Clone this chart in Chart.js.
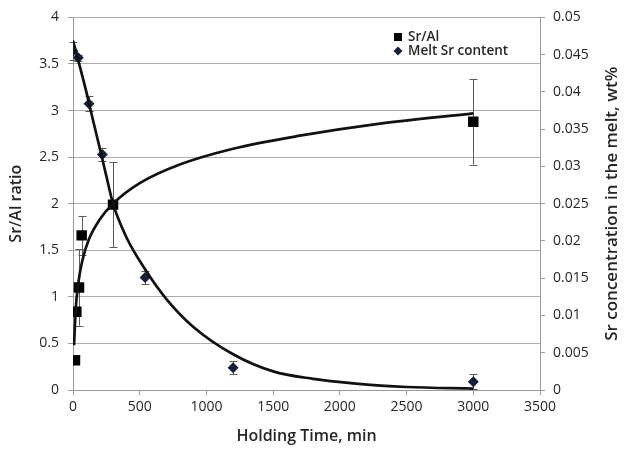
<!DOCTYPE html>
<html>
<head>
<meta charset="utf-8">
<script src="https://cdn.jsdelivr.net/npm/chart.js@4.4.1/dist/chart.umd.min.js"></script>
<style>
  html, body { margin: 0; padding: 0; background: #fff; }
  #wrap { position: relative; width: 630px; height: 451px; }
</style>
</head>
<body>
<div id="wrap"><canvas id="c" width="630" height="451"></canvas></div>
<script>
// Sr/Al ratio of the intermetallic vs holding time (left axis)
const srAlTime  = [15, 25, 45, 65, 300, 3000];
const srAlRatio = [0.32, 0.84, 1.10, 1.66, 1.99, 2.88];
const srAlErr   = [0, 0, 0.41, 0.21, 0.46, 0.46];

// Sr remaining in the melt, wt% (right axis)
const meltTime = [0, 40, 120, 220, 540, 1200, 3000];
const meltSr   = [0.0455, 0.0446, 0.0384, 0.0316, 0.0151, 0.0030, 0.0011];
const meltErr  = [0.0012, 0.0004, 0.0010, 0.0009, 0.0009, 0.0009, 0.0010];

// Trend curves
const srAlFitTime = [8, 20, 40, 70, 120, 200, 300, 500, 800, 1200, 1700, 2300, 3000];
const srAlFit     = [0.48, 0.86, 1.15, 1.39, 1.62, 1.83, 2.00, 2.22, 2.42, 2.59, 2.73, 2.86, 2.97];
const meltFitTime = [0, 50, 100, 150, 200, 250, 300, 400, 540, 700, 900, 1200, 1500, 1800, 2100, 2500, 3000];
const meltFit     = [0.0469, 0.0435, 0.0400, 0.0362, 0.0325, 0.0287, 0.0250, 0.0205, 0.0162, 0.0122, 0.0085, 0.0048, 0.0025, 0.0015, 0.0009, 0.0004, 0.0002];

// Axis labels
const seriesLabels = ['Sr/Al', 'Melt Sr content'];
const xTitle = 'Holding Time, min';
const yTitle = 'Sr/Al ratio';
const y2Title = 'Sr concentration in the melt, wt%';

const FONT = '"Open Sans", Lato, sans-serif';
const TEXT = '#262626';
const DIAMOND = '#14213d';

const pts = (xs, ys) => xs.map((x, i) => ({ x: x, y: ys[i] }));

// vertical error bars with caps, drawn beneath the markers
const errorBars = {
  id: 'errorBars',
  beforeDatasetsDraw(chart) {
    const ctx = chart.ctx;
    const xs = chart.scales.x;
    chart.data.datasets.forEach((ds) => {
      if (!ds.errors) return;
      const ys = chart.scales[ds.yAxisID];
      ctx.save();
      ctx.strokeStyle = '#5a5a5a';
      ctx.lineWidth = 1;
      ds.data.forEach((p, i) => {
        const e = ds.errors[i];
        if (!e) return;
        const x = Math.round(xs.getPixelForValue(p.x)) + 0.5;
        const yt = ys.getPixelForValue(p.y + e);
        const yb = ys.getPixelForValue(p.y - e);
        ctx.beginPath();
        ctx.moveTo(x, yt); ctx.lineTo(x, yb);
        ctx.moveTo(x - 4, Math.round(yt) + 0.5); ctx.lineTo(x + 4, Math.round(yt) + 0.5);
        ctx.moveTo(x - 4, Math.round(yb) + 0.5); ctx.lineTo(x + 4, Math.round(yb) + 0.5);
        ctx.stroke();
      });
      ctx.restore();
    });
  }
};

// legend inside the plot and the right-hand axis title (reading bottom to top)
const extras = {
  id: 'extras',
  afterDraw(chart) {
    const ctx = chart.ctx;
    const area = chart.chartArea;
    ctx.save();
    ctx.font = '600 13.5px ' + FONT;
    ctx.textBaseline = 'middle';
    const lx = 398, ly = 37, gap = 14;
    const items = chart.data.datasets.filter(d => d.legendItem);
    items.forEach((d, i) => {
      const y = ly + i * gap;
      ctx.fillStyle = d.backgroundColor;
      ctx.beginPath();
      if (d.pointStyle === 'rect') {
        ctx.rect(lx - 4, y - 4, 8, 8);
      } else {
        ctx.moveTo(lx - 4.5, y); ctx.lineTo(lx, y - 4.5);
        ctx.lineTo(lx + 4.5, y); ctx.lineTo(lx, y + 4.5);
        ctx.closePath();
      }
      ctx.fill();
      ctx.fillStyle = TEXT;
      ctx.textAlign = 'left';
      ctx.fillText(d.label, lx + 10, y);
    });

    ctx.translate(612, (area.top + area.bottom) / 2);
    ctx.rotate(-Math.PI / 2);
    ctx.textAlign = 'center';
    ctx.font = '600 17px ' + FONT;
    ctx.fillText(y2Title, 0, 0);
    ctx.restore();
  }
};

new Chart(document.getElementById('c'), {
  type: 'line',
  data: {
    datasets: [
      {
        label: 'Sr/Al fit', data: pts(srAlFitTime, srAlFit), yAxisID: 'y',
        borderColor: '#111', borderWidth: 2.7, pointRadius: 0,
        cubicInterpolationMode: 'monotone', fill: false, order: 0
      },
      {
        label: 'Melt Sr fit', data: pts(meltFitTime, meltFit), yAxisID: 'y2',
        borderColor: '#111', borderWidth: 2.7, pointRadius: 0,
        cubicInterpolationMode: 'monotone', fill: false, order: 0
      },
      {
        label: seriesLabels[0], data: pts(srAlTime, srAlRatio), yAxisID: 'y',
        showLine: false, pointStyle: 'rect', pointRadius: 7.4,
        backgroundColor: '#000', borderColor: '#000', borderWidth: 0,
        errors: srAlErr, legendItem: true, order: 1
      },
      {
        label: seriesLabels[1], data: pts(meltTime, meltSr), yAxisID: 'y2',
        showLine: false, pointStyle: 'rectRot', pointRadius: 5.5,
        backgroundColor: DIAMOND, borderColor: DIAMOND, borderWidth: 0,
        errors: meltErr, legendItem: true, order: 1
      }
    ]
  },
  options: {
    responsive: false,
    animation: false,
    events: [],
    layout: { padding: { top: 17, left: 0, right: 0, bottom: 0 } },
    plugins: { legend: { display: false }, tooltip: { enabled: false } },
    scales: {
      x: {
        type: 'linear', min: 0, max: 3500,
        afterFit: (s) => { s.height = 61; },
        ticks: {
          stepSize: 500, color: TEXT, font: { family: FONT, size: 14 }, padding: 4,
          callback: (v) => String(v), maxRotation: 0
        },
        grid: { drawOnChartArea: false, drawTicks: true, tickLength: 5, color: '#9a9a9a' },
        border: { color: '#9a9a9a' },
        title: {
          display: true, text: xTitle, color: TEXT,
          font: { family: FONT, size: 16, weight: '600' }, padding: { top: 0, bottom: 5 }
        }
      },
      y: {
        type: 'linear', position: 'left', min: 0, max: 4,
        afterFit: (s) => { s.width = 73; },
        ticks: {
          stepSize: 0.5, color: TEXT, font: { family: FONT, size: 14 }, padding: 9,
          callback: (v) => String(+v.toFixed(1))
        },
        grid: { color: '#adadad', drawTicks: true, tickLength: 5, tickColor: '#9a9a9a' },
        border: { color: '#9a9a9a' },
        title: {
          display: true, text: yTitle, color: TEXT,
          font: { family: FONT, size: 16, weight: '600' }, padding: { top: 7, bottom: 0 }
        }
      },
      y2: {
        type: 'linear', position: 'right', min: 0, max: 0.05,
        afterFit: (s) => { s.width = 90; },
        ticks: {
          stepSize: 0.005, color: TEXT, font: { family: FONT, size: 14 }, padding: 8,
          callback: (v) => String(+v.toFixed(3))
        },
        grid: { drawOnChartArea: false, drawTicks: true, tickLength: 5, color: '#9a9a9a' },
        border: { color: '#9a9a9a' }
      }
    }
  },
  plugins: [errorBars, extras]
});
</script>
</body>
</html>
